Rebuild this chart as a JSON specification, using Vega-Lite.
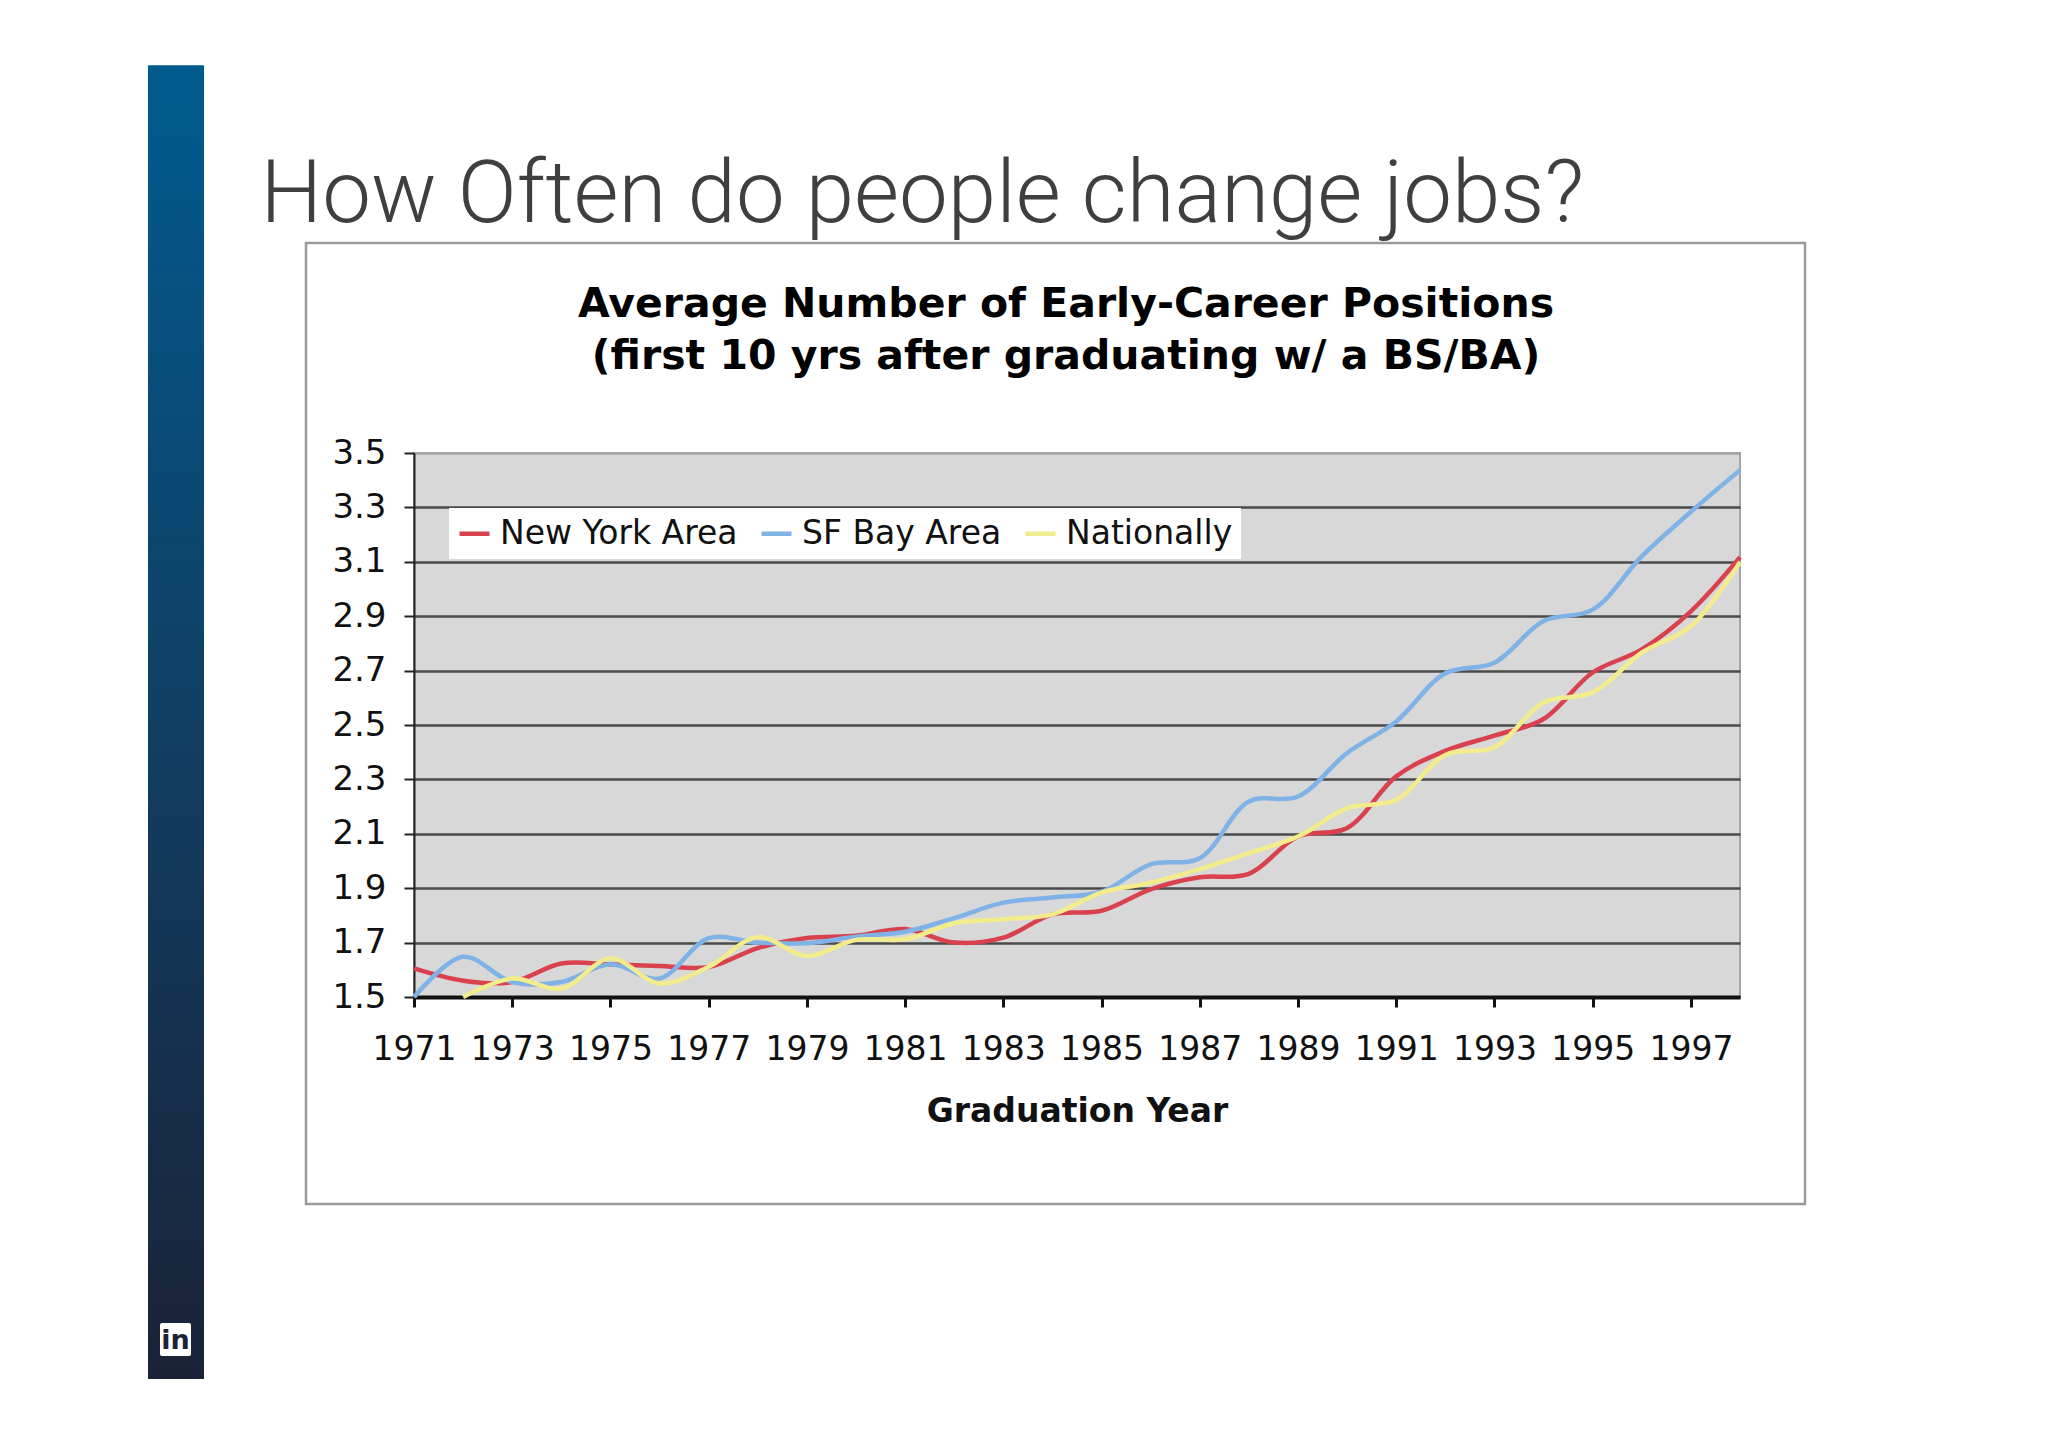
{
  "$schema": "https://vega.github.io/schema/vega-lite/v6.json",
  "width": 1326,
  "height": 544,
  "autosize": {"type": "none"},
  "padding": {"left": 414, "top": 453, "right": 308, "bottom": 450},
  "background": "white",
  "data": {
    "values": [
      {"year": 1971, "series": "New York Area", "value": 1.605},
      {"year": 1972, "series": "New York Area", "value": 1.56},
      {"year": 1973, "series": "New York Area", "value": 1.555},
      {"year": 1974, "series": "New York Area", "value": 1.623},
      {"year": 1975, "series": "New York Area", "value": 1.62},
      {"year": 1976, "series": "New York Area", "value": 1.614},
      {"year": 1977, "series": "New York Area", "value": 1.61},
      {"year": 1978, "series": "New York Area", "value": 1.68},
      {"year": 1979, "series": "New York Area", "value": 1.717},
      {"year": 1980, "series": "New York Area", "value": 1.725},
      {"year": 1981, "series": "New York Area", "value": 1.75},
      {"year": 1982, "series": "New York Area", "value": 1.70},
      {"year": 1983, "series": "New York Area", "value": 1.718},
      {"year": 1984, "series": "New York Area", "value": 1.804},
      {"year": 1985, "series": "New York Area", "value": 1.817},
      {"year": 1986, "series": "New York Area", "value": 1.896},
      {"year": 1987, "series": "New York Area", "value": 1.94},
      {"year": 1988, "series": "New York Area", "value": 1.953},
      {"year": 1989, "series": "New York Area", "value": 2.09},
      {"year": 1990, "series": "New York Area", "value": 2.121},
      {"year": 1991, "series": "New York Area", "value": 2.311},
      {"year": 1992, "series": "New York Area", "value": 2.405},
      {"year": 1993, "series": "New York Area", "value": 2.461},
      {"year": 1994, "series": "New York Area", "value": 2.522},
      {"year": 1995, "series": "New York Area", "value": 2.693},
      {"year": 1996, "series": "New York Area", "value": 2.778},
      {"year": 1997, "series": "New York Area", "value": 2.918},
      {"year": 1998, "series": "New York Area", "value": 3.117},
      {"year": 1971, "series": "SF Bay Area", "value": 1.5},
      {"year": 1972, "series": "SF Bay Area", "value": 1.648},
      {"year": 1973, "series": "SF Bay Area", "value": 1.555},
      {"year": 1974, "series": "SF Bay Area", "value": 1.555},
      {"year": 1975, "series": "SF Bay Area", "value": 1.62},
      {"year": 1976, "series": "SF Bay Area", "value": 1.568},
      {"year": 1977, "series": "SF Bay Area", "value": 1.716},
      {"year": 1978, "series": "SF Bay Area", "value": 1.70},
      {"year": 1979, "series": "SF Bay Area", "value": 1.698},
      {"year": 1980, "series": "SF Bay Area", "value": 1.722},
      {"year": 1981, "series": "SF Bay Area", "value": 1.74},
      {"year": 1982, "series": "SF Bay Area", "value": 1.79},
      {"year": 1983, "series": "SF Bay Area", "value": 1.847},
      {"year": 1984, "series": "SF Bay Area", "value": 1.866},
      {"year": 1985, "series": "SF Bay Area", "value": 1.887},
      {"year": 1986, "series": "SF Bay Area", "value": 1.988},
      {"year": 1987, "series": "SF Bay Area", "value": 2.01},
      {"year": 1988, "series": "SF Bay Area", "value": 2.219},
      {"year": 1989, "series": "SF Bay Area", "value": 2.237},
      {"year": 1990, "series": "SF Bay Area", "value": 2.397},
      {"year": 1991, "series": "SF Bay Area", "value": 2.513},
      {"year": 1992, "series": "SF Bay Area", "value": 2.69},
      {"year": 1993, "series": "SF Bay Area", "value": 2.729},
      {"year": 1994, "series": "SF Bay Area", "value": 2.882},
      {"year": 1995, "series": "SF Bay Area", "value": 2.924},
      {"year": 1996, "series": "SF Bay Area", "value": 3.12},
      {"year": 1997, "series": "SF Bay Area", "value": 3.284},
      {"year": 1998, "series": "SF Bay Area", "value": 3.437},
      {"year": 1972, "series": "Nationally", "value": 1.5},
      {"year": 1973, "series": "Nationally", "value": 1.568},
      {"year": 1974, "series": "Nationally", "value": 1.531},
      {"year": 1975, "series": "Nationally", "value": 1.642},
      {"year": 1976, "series": "Nationally", "value": 1.55},
      {"year": 1977, "series": "Nationally", "value": 1.611},
      {"year": 1978, "series": "Nationally", "value": 1.72},
      {"year": 1979, "series": "Nationally", "value": 1.651},
      {"year": 1980, "series": "Nationally", "value": 1.71},
      {"year": 1981, "series": "Nationally", "value": 1.712},
      {"year": 1982, "series": "Nationally", "value": 1.771},
      {"year": 1983, "series": "Nationally", "value": 1.786},
      {"year": 1984, "series": "Nationally", "value": 1.804},
      {"year": 1985, "series": "Nationally", "value": 1.884},
      {"year": 1986, "series": "Nationally", "value": 1.92},
      {"year": 1987, "series": "Nationally", "value": 1.97},
      {"year": 1988, "series": "Nationally", "value": 2.029},
      {"year": 1989, "series": "Nationally", "value": 2.09},
      {"year": 1990, "series": "Nationally", "value": 2.194},
      {"year": 1991, "series": "Nationally", "value": 2.225},
      {"year": 1992, "series": "Nationally", "value": 2.39},
      {"year": 1993, "series": "Nationally", "value": 2.418},
      {"year": 1994, "series": "Nationally", "value": 2.583},
      {"year": 1995, "series": "Nationally", "value": 2.62},
      {"year": 1996, "series": "Nationally", "value": 2.766},
      {"year": 1997, "series": "Nationally", "value": 2.863},
      {"year": 1998, "series": "Nationally", "value": 3.10}
    ]
  },
  "layer": [
    {
      "data": {"values": [{}]},
      "mark": {"type": "rect", "fill": null, "stroke": "#9a9a9a", "strokeWidth": 2.5},
      "encoding": {
        "x": {"datum": 1968.801, "type": "quantitative", "scale": {"domain": [1971, 1998], "nice": false, "zero": false}},
        "x2": {"datum": 1999.324},
        "y": {"datum": 4.272, "type": "quantitative", "scale": {"domain": [1.5, 3.5], "nice": false, "zero": false}},
        "y2": {"datum": 0.739}
      }
    },
    {
      "data": {"values": [{}]},
      "mark": {
        "type": "rect",
        "color": {
          "gradient": "linear",
          "x1": 0, "y1": 0, "x2": 0, "y2": 1,
          "stops": [
            {"offset": 0, "color": "#005b8f"},
            {"offset": 0.45, "color": "#0f4168"},
            {"offset": 1, "color": "#1a2236"}
          ]
        }
      },
      "encoding": {
        "x": {"datum": 1965.584, "type": "quantitative"},
        "x2": {"datum": 1966.724},
        "y": {"datum": 4.926, "type": "quantitative"},
        "y2": {"datum": 0.096}
      }
    },
    {
      "data": {"values": [{}]},
      "mark": {"type": "rect", "fill": "#ffffff", "cornerRadius": 2},
      "encoding": {
        "x": {"datum": 1965.828, "type": "quantitative"},
        "x2": {"datum": 1966.459},
        "y": {"datum": 0.3015, "type": "quantitative"},
        "y2": {"datum": 0.180}
      }
    },
    {
      "data": {"values": [{}]},
      "mark": {"type": "text", "text": "in", "font": "DejaVu Sans", "fontWeight": "bold", "fontSize": 27, "color": "#1a2236", "align": "center", "baseline": "middle"},
      "encoding": {
        "x": {"datum": 1966.144, "type": "quantitative"},
        "y": {"datum": 0.236, "type": "quantitative"}
      }
    },
    {
      "data": {"values": [{}]},
      "mark": {"type": "text", "text": "How Often do people change jobs?", "font": "Roboto", "fontWeight": 300, "fontSize": 87, "color": "#3f3f3f", "align": "left", "baseline": "alphabetic"},
      "encoding": {
        "x": {"datum": 1967.876, "type": "quantitative"},
        "y": {"datum": 4.349, "type": "quantitative"}
      }
    },
    {
      "data": {"values": [{}]},
      "mark": {"type": "text", "text": "Average Number of Early-Career Positions", "font": "DejaVu Sans", "fontWeight": "bold", "fontSize": 41, "color": "#000000", "align": "center", "baseline": "alphabetic"},
      "encoding": {
        "x": {"datum": 1984.276, "type": "quantitative"},
        "y": {"datum": 4.0, "type": "quantitative"}
      }
    },
    {
      "data": {"values": [{}]},
      "mark": {"type": "text", "text": "(first 10 yrs after graduating w/ a BS/BA)", "font": "DejaVu Sans", "fontWeight": "bold", "fontSize": 41, "color": "#000000", "align": "center", "baseline": "alphabetic"},
      "encoding": {
        "x": {"datum": 1984.276, "type": "quantitative"},
        "y": {"datum": 3.807, "type": "quantitative"}
      }
    },
    {
      "mark": {"type": "line", "interpolate": "catmull-rom"},
      "encoding": {
        "x": {
          "field": "year",
          "type": "quantitative",
          "axis": {
            "values": [1971, 1973, 1975, 1977, 1979, 1981, 1983, 1985, 1987, 1989, 1991, 1993, 1995, 1997],
            "format": "d",
            "labelFont": "DejaVu Sans",
            "labelFontSize": 33,
            "labelColor": "#111111",
            "labelPadding": 26,
            "labelFlush": false,
            "labelOverlap": false,
            "tickSize": 10,
            "tickWidth": 3,
            "tickColor": "#111111",
            "domainColor": "#111111",
            "domainWidth": 4,
            "grid": false,
            "title": "Graduation Year",
            "titleFont": "DejaVu Sans",
            "titleFontSize": 33,
            "titleFontWeight": "bold",
            "titleColor": "#111111",
            "titlePadding": 29
          }
        },
        "y": {
          "field": "value",
          "type": "quantitative",
          "axis": {
            "values": [1.5, 1.7, 1.9, 2.1, 2.3, 2.5, 2.7, 2.9, 3.1, 3.3, 3.5],
            "format": ".1f",
            "labelFont": "DejaVu Sans",
            "labelFontSize": 34,
            "labelColor": "#111111",
            "labelPadding": 18,
            "labelFlush": false,
            "labelOverlap": false,
            "tickSize": 10,
            "tickWidth": 2,
            "tickColor": "#222222",
            "domainColor": "#222222",
            "domainWidth": 2,
            "grid": true,
            "gridColor": {"condition": {"test": "datum.value >= 3.45", "value": "#a6a6a6"}, "value": "#4a4a4a"},
            "gridWidth": 2.5,
            "title": null
          }
        },
        "color": {
          "field": "series",
          "type": "nominal",
          "scale": {"domain": ["New York Area", "SF Bay Area", "Nationally"], "range": ["#d9414f", "#7fb2e6", "#f3ec8c"]},
          "legend": {
            "title": null,
            "orient": "none",
            "legendX": 35,
            "legendY": 55,
            "direction": "horizontal",
            "fillColor": "#ffffff",
            "padding": 8,
            "labelFont": "DejaVu Sans",
            "labelFontSize": 33,
            "labelColor": "#111111",
            "labelLimit": 500,
            "symbolType": "stroke",
            "symbolSize": 900,
            "symbolStrokeWidth": 3,
            "labelOffset": 8,
            "columnPadding": 14
          }
        },
        "strokeWidth": {
          "field": "series",
          "type": "nominal",
          "scale": {"domain": ["New York Area", "SF Bay Area", "Nationally"], "range": [4.5, 4.5, 3]},
          "legend": null
        }
      }
    }
  ],
  "config": {
    "view": {"fill": "#d8d8d8", "stroke": "#a6a6a6", "strokeWidth": 2},
    "font": "DejaVu Sans"
  }
}
